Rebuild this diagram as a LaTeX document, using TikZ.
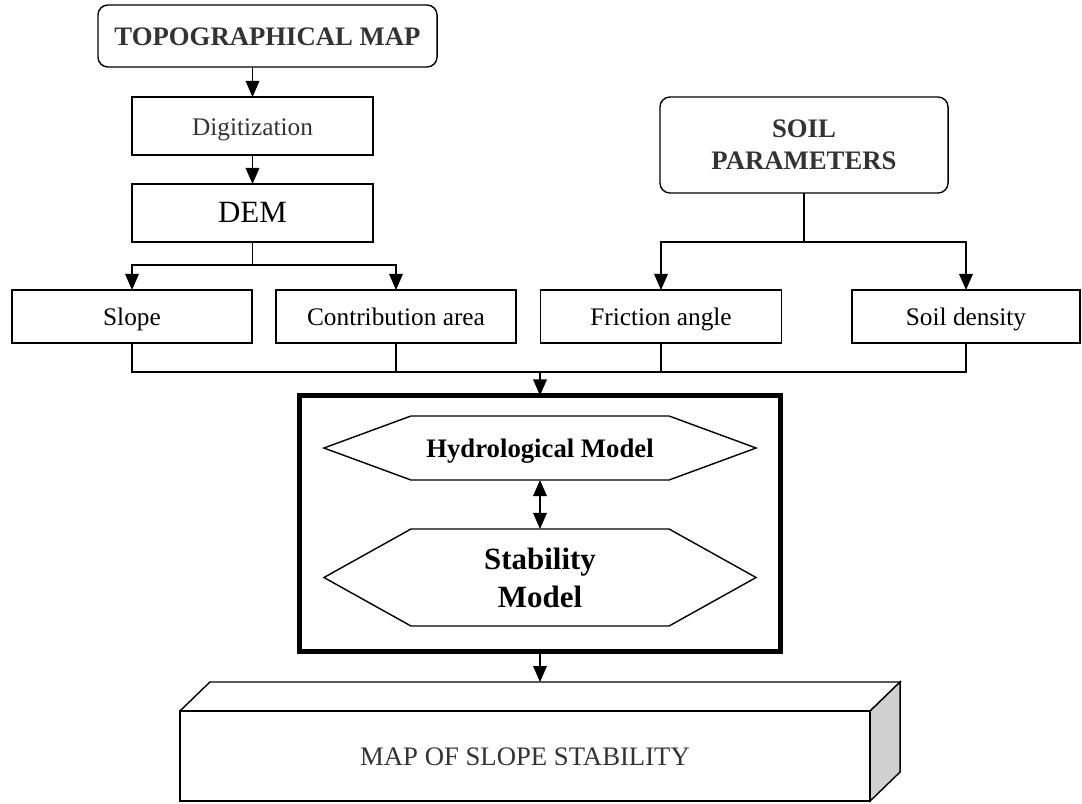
\documentclass[tikz,border=0pt]{standalone}
\usepackage{fontspec}
\setmainfont{Liberation Serif}
\usetikzlibrary{arrows.meta}
\definecolor{darktext}{HTML}{333333}
\definecolor{sidegray}{HTML}{D0D0D0}
\tikzset{
  flowtip/.tip={Triangle[length=0.4cm,width=0.34cm]},
  box/.style={draw, line width=1pt, inner sep=0pt, outer sep=0pt, align=center,
    font=\fontsize{18}{22}\selectfont},
  onerow/.style={text height=14pt, text depth=1pt},
  roundbox/.style={box, rounded corners=0.25cm, text=darktext,
    font=\fontsize{19}{23}\selectfont\bfseries},
  hexlabel/.style={inner sep=0pt, outer sep=0pt, align=center, font=\bfseries},
  arr/.style={line width=1pt, -flowtip},
  link/.style={line width=1pt}
}
\begin{document}
\begin{tikzpicture}[x=0.025cm,y=-0.025cm]
\useasboundingbox (0,0) rectangle (1082,803);
% left column
\node[roundbox, onerow, minimum width=8.475cm, minimum height=1.55cm] (topo) at (267.5,36) {TOPOGRAPHICAL MAP};
\node[box, onerow, text=darktext, minimum width=6.025cm, minimum height=1.45cm] (digit) at (252.5,126) {Digitization};
\node[box, onerow, font=\fontsize{22}{26}\selectfont, minimum width=6.025cm, minimum height=1.45cm] (dem) at (252.5,213) {DEM};
% soil parameters
\node[roundbox, minimum width=7.2cm, minimum height=2.4cm] (soil) at (804,145) {SOIL\\PARAMETERS};
% input layers
\node[box, onerow, minimum width=6cm, minimum height=1.325cm] (slope) at (132,316.5) {Slope};
\node[box, onerow, minimum width=6cm, minimum height=1.325cm] (contrib) at (396,316.5) {Contribution area};
\node[box, onerow, minimum width=6.025cm, minimum height=1.325cm] (friction) at (661,316.5) {Friction angle};
\node[box, onerow, minimum width=5.7cm, minimum height=1.325cm] (density) at (966,316.5) {Soil density};
% model block
\node[draw, line width=3.5pt, minimum width=12.025cm, minimum height=6.4cm, inner sep=0pt, outer sep=0pt] (core) at (540,523.5) {};
\node[hexlabel, onerow, font=\fontsize{19}{23}\selectfont\bfseries, minimum width=10.8cm, minimum height=1.6cm] (hydro) at (540,448) {Hydrological Model};
\node[hexlabel, font=\fontsize{22}{27}\selectfont\bfseries, minimum width=10.8cm, minimum height=2.425cm] (stab) at (540,577.5) {Stability\\Model};
\foreach \h in {hydro,stab}
  \draw[link] (\h.west) -- ([xshift=2.175cm]\h.north west) -- ([xshift=-2.175cm]\h.north east)
    -- (\h.east) -- ([xshift=-2.175cm]\h.south east) -- ([xshift=2.175cm]\h.south west) -- cycle;
% output map
\node[box, onerow, text=darktext, font=\fontsize{19}{23}\selectfont, minimum width=17.25cm, minimum height=2.25cm] (map) at (525,756) {MAP OF SLOPE STABILITY};
\draw[link] (map.north west) -- ++(0.75cm,0.725cm) coordinate (mapback) -- ([shift={(0.75cm,0.725cm)}]map.north east) -- (map.north east);
\draw[link, fill=sidegray] (map.north east) -- ++(0.75cm,0.725cm) -- ([shift={(0.75cm,0.725cm)}]map.south east) -- (map.south east) -- cycle;
\coordinate (maptop) at (540,682);
% connectors
\coordinate (demsplit) at (252.5,265);
\coordinate (soilsplit) at (804,242);
\coordinate (merge) at (540,372);
\draw[arr] (digit.north |- topo.south) -- (digit.north);
\draw[arr] (digit) -- (dem);
\draw[link] (dem) -- (demsplit);
\draw[arr] (demsplit) -| (slope.north);
\draw[arr] (demsplit) -| (contrib.north);
\draw[link] (soil) -- (soilsplit);
\draw[arr] (soilsplit) -| (friction.north);
\draw[arr] (soilsplit) -| (density.north);
\draw[link] (slope.south) |- (merge) -| (density.south);
\draw[link] (contrib) -- (contrib |- merge);
\draw[link] (friction) -- (friction |- merge);
\draw[arr] (merge) -- (core.north);
\draw[link, flowtip-flowtip] (hydro.south) -- (stab.north);
\draw[arr] (core.south) -- (maptop);
\end{tikzpicture}
\end{document}
